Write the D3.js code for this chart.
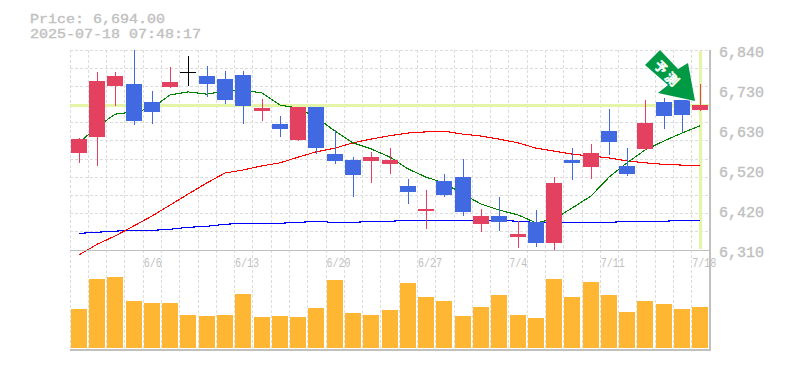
<!DOCTYPE html>
<html lang="ja">
<head>
    <meta charset="UTF-8">
    <title>Price chart</title>
    <script src="https://d3js.org/d3.v7.min.js"></script>
    <style>
        html, body { margin: 0; background: #fff; }
        svg { display: block; }
        text { font-family: "Liberation Mono", "DejaVu Sans Mono", monospace; fill: #c0c0c0; }
        .heavy { stroke: #c0c0c0; stroke-width: 0.35; }
        .grid line { stroke: #dcdcdc; stroke-dasharray: 3 2; shape-rendering: crispEdges; }
        .grid path, .labels path, .labels line { display: none; }
    </style>
</head>
<body>
<svg id="canvas" width="785" height="370"></svg>
<script>
    const dates = ["6/2","6/3","6/4","6/5","6/6","6/9","6/10","6/11","6/12","6/13","6/16","6/17","6/18","6/19","6/20",
        "6/23","6/24","6/25","6/26","6/27","6/30","7/1","7/2","7/3","7/4","7/7","7/8","7/9","7/10","7/11",
        "7/14","7/15","7/16","7/17","7/18"];
    const dateLabels = ["6/6","6/13","6/20","6/27","7/4","7/11","7/18"];

    // candles
    const opens = [6567,6609,6745,6750,6702,6742,6782,6771,6763,6774,6678,6644,6601,6689,6564,6548,6546,6538,6480,6413,
        6493,6503,6379,6400,6344,6384,6329,6548,6530,6625,6533,6578,6702,6708,6681];
    const closes = [6604,6758,6771,6652,6676,6755,6782,6750,6707,6692,6686,6631,6689,6580,6546,6509,6556,6548,6464,6419,
        6456,6411,6400,6384,6352,6329,6488,6541,6567,6596,6511,6647,6665,6668,6694];
    const highs = [6607,6782,6782,6840,6731,6795,6824,6798,6784,6784,6710,6665,6689,6689,6628,6556,6570,6580,6498,6469,
        6511,6551,6419,6450,6387,6416,6503,6580,6591,6684,6580,6708,6713,6708,6750];
    const lows = [6540,6533,6692,6641,6644,6739,6745,6715,6697,6644,6652,6609,6599,6564,6538,6450,6488,6511,6432,6366,
        6450,6400,6358,6360,6315,6318,6307,6496,6498,6562,6506,6575,6631,6623,6678];

    // moving averages
    const maShort = [6594,6636,6670,6676,6686,6721,6729,6723,6731,6734,6726,6694,6686,6662,6625,6594,6578,6556,6525,6503,
        6488,6458,6432,6416,6403,6382,6392,6421,6453,6503,6541,6575,6599,6620,6639];
    const maMid = [6297,6325,6347,6374,6400,6429,6458,6488,6514,6522,6533,6541,6556,6570,6580,6594,6604,6613,6620,6623,
        6625,6617,6612,6604,6594,6580,6572,6564,6559,6554,6546,6541,6537,6535,6535];
    const maLong = [6354,6357,6360,6362,6362,6365,6370,6373,6378,6381,6381,6381,6383,6386,6383,6383,6386,6386,6389,6389,
        6389,6389,6389,6389,6386,6383,6383,6383,6383,6383,6386,6386,6386,6389,6389];

    const volumes = [39,69,71,47,45,45,33,32,33,54,31,32,31,40,68,35,33,38,65,51,47,32,41,53,33,30,69,51,66,53,36,47,44,39,41];

    const currentPrice = 6694;
    const priceLabel = "Price: 6,694.00";
    const timeLabel = "2025-07-18 07:48:17";
    const priceTicks = [6840,6734,6628,6522,6416,6310];
    const priceTickLabels = ["6,840","6,730","6,630","6,520","6,420","6,310"];

    const UP = "#e3415f", DOWN = "#4169e1", FLAT = "#000", HILITE = "#e4f5a8", AXIS = "#c0c0c0";
    const plotL = 70, plotR = 710, plotT = 50, plotM = 250, plotB = 350;

    const svg = d3.select("#canvas");
    const idx = d3.range(dates.length);
    const x = d3.scaleBand().domain(idx).range([plotL, plotR]);
    const xc = i => Math.floor(x(i) + x.bandwidth() / 2);
    const y = d3.scaleLinear().domain([6310, 6840]).range([plotM, plotT]);
    const yVol = d3.scaleLinear().domain([0, 98]).range([plotB - 2, plotM]);

    // grid
    const gridY = d3.range(12).map(i => 6310 + i * 530 / 11);
    svg.append("g").attr("class", "grid")
        .call(d3.axisLeft(y).tickValues(gridY).tickSize(plotL - plotR).tickFormat("").offset(0))
        .attr("transform", `translate(${plotL},0)`);
    svg.append("g").attr("class", "grid")
        .selectAll("line").data(idx).enter().append("line")
        .attr("x1", d => Math.floor(x(d))).attr("x2", d => Math.floor(x(d)))
        .attr("y1", plotT).attr("y2", plotB);

    // highlight for the latest price and day
    svg.append("rect").attr("x", plotL).attr("y", Math.round(y(currentPrice)) - 1)
        .attr("width", plotR - plotL).attr("height", 3).attr("fill", HILITE);
    svg.append("rect").attr("x", xc(34) - 1).attr("y", plotT + 1)
        .attr("width", 3).attr("height", plotM - plotT - 2).attr("fill", HILITE);

    // moving averages
    const maLine = d3.line().x((d, i) => xc(i)).y(d => y(d));
    [[maLong, "#0000ff"], [maMid, "#ff0000"], [maShort, "#008000"]].forEach(([s, c]) => {
        svg.append("path").datum(s).attr("d", maLine).attr("fill", "none")
            .attr("stroke", c).attr("stroke-width", 1.1).attr("shape-rendering", "crispEdges");
    });

    // candles
    const color = i => closes[i] > opens[i] ? UP : closes[i] < opens[i] ? DOWN : FLAT;
    const candles = svg.append("g").attr("shape-rendering", "crispEdges");
    candles.selectAll(".wick").data(idx).enter().append("rect").attr("class", "wick")
        .attr("x", xc).attr("width", 1)
        .attr("y", d => y(highs[d]))
        .attr("height", d => y(lows[d]) - y(highs[d]))
        .attr("fill", color);
    candles.selectAll(".body").data(idx).enter().append("rect").attr("class", "body")
        .attr("x", d => xc(d) - 8).attr("width", 16)
        .attr("y", d => y(Math.max(opens[d], closes[d])))
        .attr("height", d => Math.max(1, Math.abs(y(opens[d]) - y(closes[d]))))
        .attr("fill", color);

    // volume
    svg.append("g").attr("shape-rendering", "crispEdges")
        .selectAll("rect").data(volumes).enter().append("rect")
        .attr("x", (d, i) => xc(i) - 8).attr("width", 16)
        .attr("y", d => yVol(d))
        .attr("height", d => yVol(0) - yVol(d))
        .attr("fill", "#ffb733");

    // frame
    const box = svg.append("g").attr("stroke", AXIS).attr("shape-rendering", "crispEdges");
    box.append("line").attr("x1", plotL).attr("x2", plotR + 1).attr("y1", plotM).attr("y2", plotM);
    box.append("line").attr("x1", plotL).attr("x2", plotR + 1).attr("y1", plotB).attr("y2", plotB).attr("stroke-width", 2);
    box.append("line").attr("x1", plotR).attr("x2", plotR).attr("y1", plotT).attr("y2", plotB).attr("stroke-width", 2);

    // axis labels
    svg.append("g").attr("class", "labels")
        .attr("transform", `translate(${plotR + 9},0)`)
        .call(d3.axisRight(y).tickValues(priceTicks).tickSize(0).tickPadding(0).offset(0)
            .tickFormat((d, i) => priceTickLabels[i]))
        .call(g => g.attr("font-family", null).attr("font-size", 14))
        .call(g => g.selectAll("text").attr("dy", 7).attr("class", "heavy")
            .attr("textLength", 45).attr("lengthAdjust", "spacingAndGlyphs"));

    const shown = idx.filter(i => dateLabels.includes(dates[i]));
    svg.append("g").attr("class", "labels")
        .attr("transform", `translate(0,${plotM})`)
        .call(d3.axisBottom(x).tickValues(shown).tickSize(0).tickPadding(0).offset(0)
            .tickFormat(i => dates[i]))
        .call(g => g.attr("font-family", null).attr("font-size", 12))
        .call(g => g.selectAll("text")
            .attr("text-anchor", "start").attr("x", -x.bandwidth() / 2 + 0.5)
            .attr("dy", 0).attr("y", 17)
            .attr("textLength", function () { return this.textContent.length * 6; })
            .attr("lengthAdjust", "spacingAndGlyphs"));

    // header
    [[priceLabel, 23], [timeLabel, 38]].forEach(([t, base]) => {
        svg.append("text").attr("class", "heavy").attr("x", 30).attr("y", base).attr("font-size", 13.2)
            .attr("textLength", t.length * 9).attr("lengthAdjust", "spacingAndGlyphs").text(t);
    });

    // arrow badge, offsets from its tip
    const tipX = xc(34) - 5, tipY = y(currentPrice) - 4;
    const arrow = [[-35,-51],[-17,-32],[-7,-38],[0,0],[-37,-8],[-27,-16],[-50,-36]];
    const badge = svg.append("g").attr("transform", `translate(${tipX},${tipY})`);
    badge.append("polygon").attr("points", arrow.join(" "))
        .attr("fill", "#009944").attr("stroke", "#fff").attr("stroke-width", 1.5)
        .attr("stroke-linejoin", "round").attr("paint-order", "stroke");
    [["予", -34, -34], ["測", -23, -22]].forEach(([t, tx, ty]) => {
        badge.append("text").attr("transform", `translate(${tx},${ty}) rotate(45)`)
            .attr("text-anchor", "middle").attr("dy", "0.38em")
            .attr("font-size", 13).attr("font-weight", 700)
            .style("font-family", '"Noto Sans CJK JP"').style("fill", "#fff")
            .style("stroke", "#fff").style("stroke-width", 0.4)
            .text(t);
    });
</script>
</body>
</html>
